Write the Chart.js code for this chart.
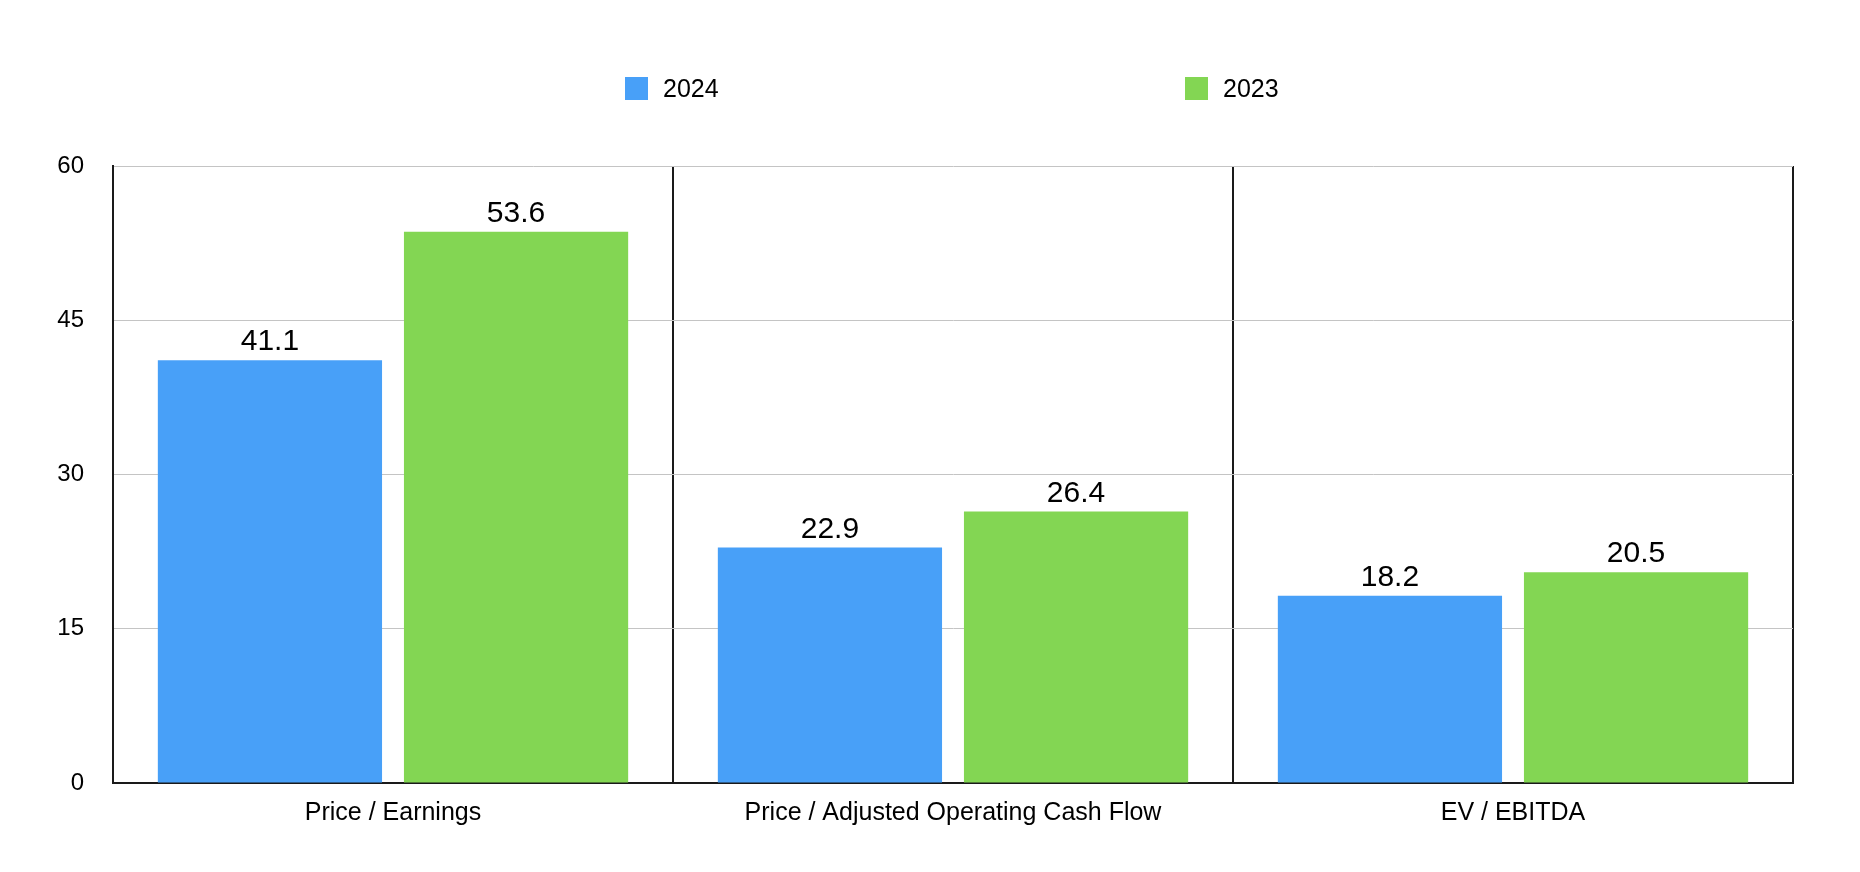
<!DOCTYPE html>
<html>
<head>
<meta charset="utf-8">
<script src="https://cdn.jsdelivr.net/npm/chart.js@4/dist/chart.umd.min.js"></script>
<style>
  html, body { margin: 0; padding: 0; background: #ffffff; }
  #wrap { position: relative; width: 1860px; height: 872px; }
  #legend { position: absolute; top: 0; left: 0; width: 1860px; height: 0; font-family: "Liberation Sans", Arial, Helvetica, sans-serif; font-size: 25px; color: #000; }
  .item { position: absolute; top: 76px; display: flex; align-items: center; height: 24px; }
  .box { width: 23px; height: 23px; margin-right: 15px; }
</style>
</head>
<body>
<div id="wrap">
  <canvas id="c" width="1860" height="872"></canvas>
  <div id="legend"></div>
</div>
<script>
const categories = ["Price / Earnings", "Price / Adjusted Operating Cash Flow", "EV / EBITDA"];
const seriesNames = ["2024", "2023"];
const values2024 = [41.1, 22.9, 18.2];
const values2023 = [53.6, 26.4, 20.5];
const yTicks = [0, 15, 30, 45, 60];
const colors = ["#48A0F8", "#83D653"];

const FONT = '"Liberation Sans", Arial, Helvetica, sans-serif';

const valueLabels = {
  id: 'valueLabels',
  afterDatasetsDraw(chart) {
    const ctx = chart.ctx;
    ctx.save();
    ctx.font = '30px ' + FONT;
    ctx.fillStyle = '#000';
    ctx.textAlign = 'center';
    ctx.textBaseline = 'alphabetic';
    chart.data.datasets.forEach((ds, di) => {
      const meta = chart.getDatasetMeta(di);
      meta.data.forEach((el, i) => {
        ctx.fillText(ds.data[i].toFixed(1), el.x, el.y - 10);
      });
    });
    ctx.restore();
  }
};

const chart = new Chart(document.getElementById('c'), {
  type: 'bar',
  data: {
    labels: categories,
    datasets: [
      { label: seriesNames[0], data: values2024, backgroundColor: colors[0], borderWidth: 0, categoryPercentage: 0.879, barPercentage: 0.911 },
      { label: seriesNames[1], data: values2023, backgroundColor: colors[1], borderWidth: 0, categoryPercentage: 0.879, barPercentage: 0.911 }
    ]
  },
  options: {
    responsive: false,
    animation: false,
    devicePixelRatio: 1,
    layout: { padding: { top: 166, right: 67, left: 0, bottom: 0 } },
    plugins: {
      legend: { display: false },
      tooltip: { enabled: false },
      title: { display: false }
    },
    scales: {
      x: {
        offset: true,
        grid: { display: true, offset: true, color: '#1a1a1a', lineWidth: 2, drawTicks: false },
        border: { display: true, color: '#1a1a1a', width: 2 },
        ticks: { color: '#000', font: { family: FONT, size: 25 }, padding: 15, maxRotation: 0 },
        afterFit(scale) { scale.height = 89; }
      },
      y: {
        min: 0,
        max: 60,
        afterBuildTicks(scale) { scale.ticks = yTicks.map(v => ({ value: v })); },
        grid: { color: '#c4c4c4', lineWidth: 1, drawTicks: false },
        border: { display: true, color: '#1a1a1a', width: 2 },
        ticks: { color: '#000', font: { family: FONT, size: 24 }, padding: 29 },
        afterFit(scale) { scale.width = 113; }
      }
    }
  },
  plugins: [valueLabels]
});

// Legend built from the chart's own datasets
const legendEl = document.getElementById('legend');
const legendLefts = [625, 1185];
chart.data.datasets.forEach((ds, i) => {
  const item = document.createElement('div');
  item.className = 'item';
  item.style.left = legendLefts[i] + 'px';
  const box = document.createElement('div');
  box.className = 'box';
  box.style.background = ds.backgroundColor;
  const txt = document.createElement('span');
  txt.textContent = ds.label;
  item.appendChild(box);
  item.appendChild(txt);
  legendEl.appendChild(item);
});
</script>
</body>
</html>
